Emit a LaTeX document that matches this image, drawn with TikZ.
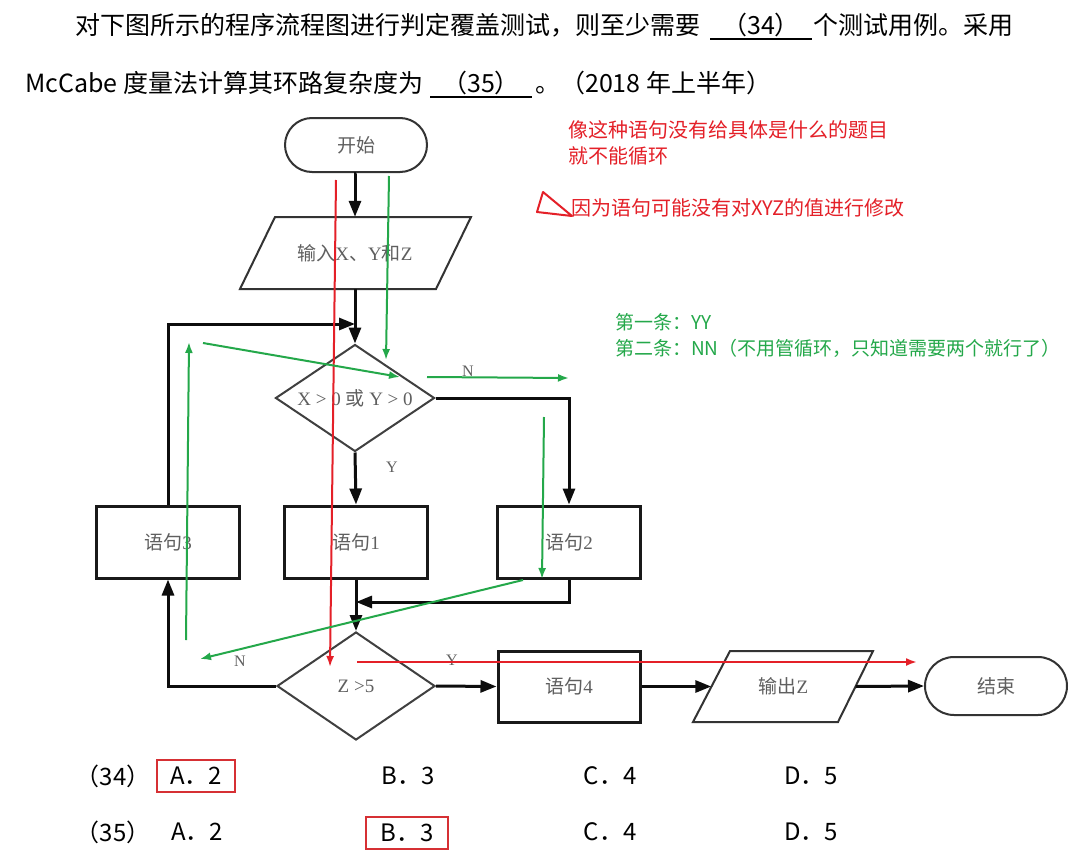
\documentclass[tikz,border=0pt]{standalone}
\usepackage{fontspec}
\setmainfont{Liberation Serif}
\newfontfamily\cjk{Noto Sans CJK SC}
\usetikzlibrary{arrows.meta,shapes.geometric,shapes.misc}
\definecolor{annred}{RGB}{228,32,40}
\definecolor{anngreen}{RGB}{36,168,74}
\definecolor{txtgray}{RGB}{95,95,95}
\definecolor{boxred}{RGB}{214,48,52}
\newcommand\fcfont{\fontsize{19}{21}\selectfont}
\newcommand\lblfont{\fontsize{16}{18}\selectfont}
\newcommand\qfont{\cjk\fontsize{25}{28}\selectfont}
\newcommand\rnfont{\cjk\fontsize{20}{22}\selectfont}
\newcommand\gnfont{\cjk\fontsize{19}{21}\selectfont}
\newcommand\optfont{\cjk\fontsize{24}{26}\selectfont}
\begin{document}
\begin{tikzpicture}[x=1pt,y=-1pt,
  fc/.style={font=\fcfont, text=txtgray},
  term/.style={rounded rectangle, draw=black!80, line width=2pt, minimum width=142pt, minimum height=54pt, inner sep=0pt, fc},
  stbox/.style={rectangle, draw=black!90, line width=3pt, minimum width=143pt, minimum height=72pt, inner sep=0pt, fc},
  decision/.style={diamond, draw=black!75, line width=2pt, minimum width=159pt, minimum height=107pt, inner sep=0pt},
  iobox/.style={rectangle, minimum height=72pt, inner sep=0pt, fc},
  ioline/.style={draw=black!80, line width=2pt},
  conn/.style={draw=black!95, line width=3pt, -{Triangle[length=16pt,width=12pt]}},
  lbl/.style={font=\lblfont, text=txtgray},
  gline/.style={draw=anngreen, line width=2pt, -{Latex[length=11pt,width=8pt]}},
  rline/.style={draw=annred, line width=2pt, -{Latex[length=11pt,width=8pt]}},
  qtext/.style={font=\qfont, anchor=west, inner sep=0pt},
  rtext/.style={font=\rnfont, text=annred, anchor=west, inner sep=0pt},
  gtext/.style={font=\gnfont, text=anngreen, anchor=west, inner sep=0pt},
  opt/.style={font=\optfont, inner sep=0pt, minimum width=78pt, minimum height=32pt},
  optsel/.style={opt, draw=boxred, line width=1.8pt},
  uline/.style={draw=black, line width=1.5pt}
]
\useasboundingbox[fill=white] (0,0) rectangle (1080,854);

% ---- question text ----
\node[qtext] (q1) at (75,25) {对下图所示的程序流程图进行判定覆盖测试，则至少需要};
\node[font=\qfont, inner sep=0pt] (b34) at (761,25) {（34）};
\coordinate (u1a) at (710,39); \coordinate (u1b) at (812,39);
\draw[uline] (u1a) -- (u1b);
\node[qtext] (q2) at (813,25) {个测试用例。采用};
\node[qtext] (q3) at (25,83) {McCabe 度量法计算其环路复杂度为};
\node[font=\qfont, inner sep=0pt] (b35) at (481,83) {（35）};
\coordinate (u2a) at (430,97); \coordinate (u2b) at (532,97);
\draw[uline] (u2a) -- (u2b);
\node[qtext] (q4) at (535,83) {。（2018 年上半年）};

% ---- flowchart ----
\node[term] (start) at (356,145) {{\cjk 开始}};
\draw[ioline] (275,217) -- (471,217) -- (436,289) -- (240,289) -- cycle;
\node[iobox, minimum width=195pt] (in) at (355,253) {{\cjk 输入}X{\cjk 、}Y{\cjk 和}Z};
\node[decision] (d1) at (355,398) {};
\node[fc] (d1t) at (355,398) {X > 0 {\cjk 或} Y > 0};
\node[stbox] (s3) at (168,542) {{\cjk 语句}3};
\node[stbox] (s1) at (356,542) {{\cjk 语句}1};
\node[stbox] (s2) at (569,542) {{\cjk 语句}2};
\node[decision, minimum width=158pt, minimum height=108pt] (d2) at (356,686) {};
\node[fc] (d2t) at (356,686) {Z >5};
\node[stbox, minimum width=142pt, minimum height=71pt] (s4) at (569,686.5) {{\cjk 语句}4};
\draw[ioline] (730,651) -- (873,651) -- (838,722) -- (693,722) -- cycle;
\node[iobox, minimum width=144pt, minimum height=71pt] (out) at (783.5,686.5) {{\cjk 输出}Z};
\node[term, minimum height=58pt] (end) at (996,686) {{\cjk 结束}};

\coordinate (m1) at (355,324);
\coordinate (m2) at (356,602);
\draw[conn] (start.south) -- (in.south |- start.south) -- (in.north);
\draw[conn] (in.south) -- (d1.north);
\draw[conn] (s3.north) |- (m1);
\draw[conn] (d1.south) -- (s1.north);
\draw[conn] (d1.east) -| (s2.north);
\draw[conn] (s1.south) -- (d2.north);
\draw[conn] (s2.south) |- (m2);
\draw[conn] (d2.west) -| (s3.south);
\draw[conn] (d2.east) -- (s4.west);
\draw[conn] (s4.east) -- (out.west);
\draw[conn] (out.east) -- (end.west);

\node[lbl] (lN1) at (468,371) {N};
\node[lbl] (lY1) at (392,467) {Y};
\node[lbl] (lN2) at (240,661) {N};
\node[lbl] (lY2) at (452,660) {Y};

% ---- annotations ----
\node[rtext] (r1) at (568,130) {像这种语句没有给具体是什么的题目};
\node[rtext] (r2) at (568,156) {就不能循环};
\node[rtext] (r3) at (571,208) {因为语句可能没有对XYZ的值进行修改};
\draw[draw=annred, line width=2pt, line join=round] (537,212) -- (543,192) -- (572,216) -- cycle;

\node[gtext] (g1) at (615,322) {第一条：YY};
\node[gtext] (g2) at (615,348) {第二条：NN（不用管循环，只知道需要两个就行了）};

\coordinate (ra) at (336,180); \coordinate (rb) at (330,667);
\coordinate (rc) at (357,662); \coordinate (rd) at (917,662);
\draw[rline] (ra) -- (rb);
\draw[rline] (rc) -- (rd);

\coordinate (ga) at (389,176); \coordinate (gb) at (386,360);
\coordinate (gc) at (203,343); \coordinate (gd) at (400,377);
\coordinate (ge) at (427,377); \coordinate (gf) at (569,378);
\coordinate (gg) at (544,417); \coordinate (gh) at (542,579);
\coordinate (gi) at (523,580); \coordinate (gj) at (200,659);
\coordinate (gk) at (186,640); \coordinate (gl) at (189,342);
\draw[gline] (ga) -- (gb);
\draw[gline] (gc) -- (gd);
\draw[gline] (ge) -- (gf);
\draw[gline] (gg) -- (gh);
\draw[gline] (gi) -- (gj);
\draw[gline] (gk) -- (gl);

% ---- options ----
\node[opt] (p34) at (113,776) {（34）};
\node[optsel] (a34) at (196,776) {A．2};
\node[opt] (b34o) at (408,776) {B．3};
\node[opt] (c34) at (610,776) {C．4};
\node[opt] (d34) at (811,776) {D．5};
\node[opt] (p35) at (113,832) {（35）};
\node[opt] (a35) at (197,832) {A．2};
\node[optsel, minimum width=82pt] (b35o) at (407,833) {B．3};
\node[opt] (c35) at (610,832) {C．4};
\node[opt] (d35) at (811,832) {D．5};
\end{tikzpicture}
\end{document}
